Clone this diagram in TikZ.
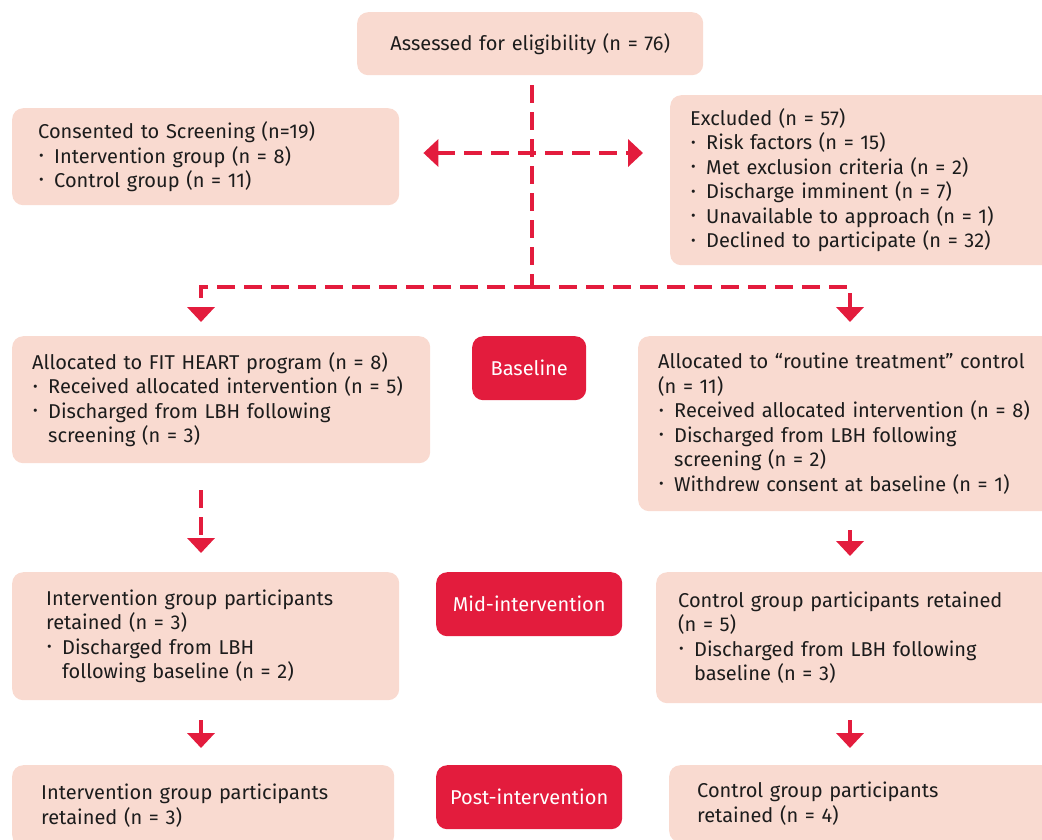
\documentclass[tikz,border=0pt]{standalone}
\usepackage{fontspec}
\setmainfont{Fira Sans}
\usetikzlibrary{arrows.meta,positioning,calc}
\definecolor{peach}{HTML}{F9DAD0}
\definecolor{fitred}{HTML}{E31C3D}
\definecolor{ink}{HTML}{1C1C1C}
\newcommand{\fsz}{\fontsize{20}{24.5}\selectfont}
\newcommand{\bul}{\makebox[16pt][l]{\hspace{1pt}\raisebox{0.25ex}{\scalebox{0.7}{\textbullet}}}}
\newcommand{\hang}{\hspace*{16pt}}
\tikzset{
  box/.style={fill=peach, rounded corners=11pt, anchor=north west, align=left,
              inner ysep=0pt, font=\fsz, text=ink},
  stage/.style={fill=fitred, rounded corners=11pt, anchor=north west, align=center,
                inner sep=0pt, font=\fsz, text=white},
  dashline/.style={draw=fitred, line width=4.5pt, dash pattern=on 18pt off 9pt},
  dasharrow/.style={dashline, -{Triangle[width=27pt,length=15pt]}},
  solidarrow/.style={draw=fitred, line width=4.5pt, -{Triangle[width=27pt,length=15pt]}}
}
\begin{document}
\begin{tikzpicture}[x=1pt,y=-1pt]
  \useasboundingbox (0,0) rectangle (1042,839);

  % Screening
  \node[box,align=center,inner xsep=0pt,text width=346pt,minimum height=63pt] (assessed) at (357,12) {Assessed for eligibility (n = 76)};
  \node[box,inner xsep=26pt,text width=335pt,minimum height=97pt] (consent) at (12,108)
    {Consented to Screening (n=19)\\ \bul Intervention group (n = 8)\\ \bul Control group (n = 11)};
  \node[box,inner xsep=20pt,text width=360pt,minimum height=170pt] (excluded) at (670,95)
    {Excluded (n = 57)\\ \bul Risk factors (n = 15)\\ \bul Met exclusion criteria (n = 2)\\ \bul Discharge imminent (n = 7)\\
     \bul Unavailable to approach (n = 1)\\ \bul Declined to participate (n = 32)};

  % Baseline row
  \node[box,inner xsep=20pt,text width=378pt,minimum height=127pt] (allocI) at (12,336)
    {Allocated to FIT HEART program (n = 8)\\ \bul Received allocated intervention (n = 5)\\ \bul Discharged from LBH following\\ \hang screening (n = 3)};
  \node[stage,minimum width=114pt,minimum height=64pt] (baseline) at (472,336) {Baseline};
  \node[box,inner xsep=20pt,text width=390pt,minimum height=175pt] (allocC) at (638,336)
    {Allocated to “routine treatment” control\\ (n = 11)\\ \bul Received allocated intervention (n = 8)\\ \bul Discharged from LBH following\\ \hang screening (n = 2)\\ \bul Withdrew consent at baseline (n = 1)};

  % Mid-intervention row
  \node[box,inner xsep=34pt,text width=319pt,minimum height=128pt] (interI) at (12,572)
    {Intervention group participants\\ retained (n = 3)\\ \bul Discharged from LBH\\ \hang following baseline (n = 2)};
  \node[stage,minimum width=186pt,minimum height=64pt] (mid) at (436,572) {Mid-intervention};
  \node[box,inner xsep=22pt,text width=376pt,minimum height=131pt] (ctrlR) at (656,572)
    {Control group participants retained\\ (n = 5)\\ \bul Discharged from LBH following\\ \hang baseline (n = 3)};

  % Post-intervention row
  \node[box,inner xsep=29pt,text width=324pt,minimum height=81pt] (finalI) at (12,765)
    {Intervention group participants\\ retained (n = 3)};
  \node[stage,minimum width=186pt,minimum height=64pt] (post) at (436,765) {Post-intervention};
  \node[box,inner xsep=28pt,text width=344pt,minimum height=77pt] (finalC) at (669,765)
    {Control group participants\\ retained (n = 4)};

  % connectors
  \coordinate (split) at (532,287);
  \coordinate (cross) at (532,153);
  \coordinate (colL) at (201,0);
  \coordinate (colR) at (850,0);
  \draw[dashline,shorten <=10pt] (assessed.south -| split) -- (split);
  \draw[dashline,{Triangle[width=27pt,length=15pt]}-{Triangle[width=27pt,length=15pt]},shorten <=24pt,shorten >=27pt]
    (cross -| consent.east) -- (cross -| excluded.west);
  \draw[dasharrow,shorten >=14pt] (split) -| (allocI.north -| colL);
  \draw[dasharrow,shorten >=14pt] (split) -| (allocC.north -| colR);
  \draw[dasharrow,shorten <=27pt,shorten >=19pt] (allocI.south -| colL) -- (interI.north -| colL);
  \draw[solidarrow,shorten <=19pt,shorten >=16pt] (allocC.south -| colR) -- (ctrlR.north -| colR);
  \draw[solidarrow,shorten <=20pt,shorten >=17pt] (interI.south -| colL) -- (finalI.north -| colL);
  \draw[solidarrow,shorten <=17pt,shorten >=17pt] (ctrlR.south -| colR) -- (finalC.north -| colR);
\end{tikzpicture}
\end{document}
